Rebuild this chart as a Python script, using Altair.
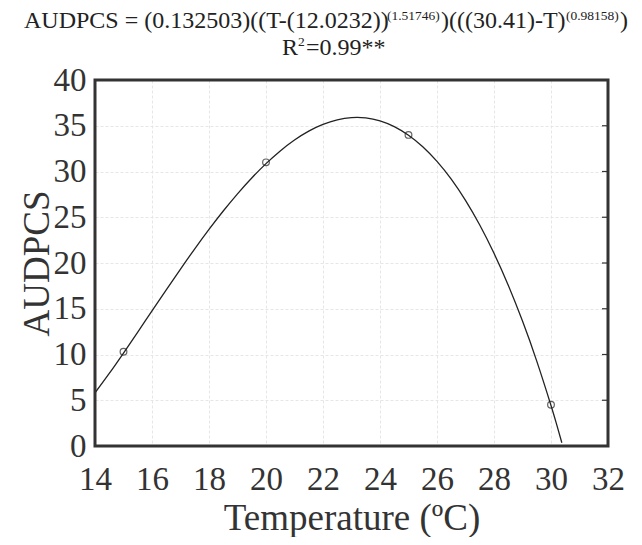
import altair as alt
import pandas as pd

# Observed points
obs_temp = [15, 20, 25, 30]
obs_audpcs = [10.3, 31.0, 34.0, 4.5]

# Fitted curve
curve_temp = [14, 14.5, 15, 15.5, 16, 16.5, 17, 17.5, 18, 18.5, 19, 19.5, 20, 20.5,
              21, 21.5, 22, 22.5, 23, 23.5, 24, 24.5, 25, 25.5, 26, 26.5, 27, 27.5,
              28, 28.5, 29, 29.5, 30, 30.2, 30.38]
curve_audpcs = [5.81, 7.93, 10.16, 12.45, 14.77, 17.07, 19.34, 21.55, 23.67, 25.68,
                27.56, 29.29, 30.86, 32.25, 33.44, 34.41, 35.14, 35.64, 35.89, 35.86,
                35.54, 34.91, 33.97, 32.71, 31.11, 29.17, 26.85, 24.15, 21.06, 17.57,
                13.65, 9.28, 4.43, 2.33, 0.35]

x_ticks = [14, 16, 18, 20, 22, 24, 26, 28, 30, 32]
y_ticks = [0, 5, 10, 15, 20, 25, 30, 35, 40]
inner_y_ticks = [5, 10, 15, 20, 25, 30, 35]

FONT = "Liberation Serif"
INK = "#333333"

obs = pd.DataFrame({"T": obs_temp, "AUDPCS": obs_audpcs})
curve = pd.DataFrame({"T": curve_temp, "AUDPCS": curve_audpcs})
rticks = pd.DataFrame({"AUDPCS": inner_y_ticks})

x_enc = alt.X("T:Q",
              scale=alt.Scale(domain=[14, 32], nice=False, zero=False),
              axis=alt.Axis(values=x_ticks, title="Temperature (ºC)", format="d",
                            labelFont=FONT, labelFontSize=33, labelColor=INK,
                            labelFlush=False, labelOverlap=False,
                            labelPadding=17, tickSize=0, domain=False,
                            gridColor="#e6e6e6", gridDash=[3, 2], gridWidth=1,
                            titleFont=FONT, titleFontSize=37, titleFontWeight="normal",
                            titleColor=INK, titleY=83, titleBaseline="alphabetic"))
y_enc = alt.Y("AUDPCS:Q",
              scale=alt.Scale(domain=[0, 40], nice=False),
              axis=alt.Axis(values=y_ticks, title="AUDPCS", format="d",
                            labelFont=FONT, labelFontSize=33, labelColor=INK,
                            labelFlush=False, labelOverlap=False,
                            labelPadding=9, tickSize=0, domain=False,
                            gridColor="#e6e6e6", gridDash=[3, 2], gridWidth=1,
                            titleFont=FONT, titleFontSize=37, titleFontWeight="normal",
                            titleColor=INK, titleX=-47, titleBaseline="alphabetic",
                            titleAngle=270))

line = alt.Chart(curve).mark_line(color="#222222", strokeWidth=1.3,
                                  interpolate="natural").encode(x=x_enc, y=y_enc)
pts = alt.Chart(obs).mark_point(shape="circle", size=45, filled=False,
                                color="#222222", strokeWidth=1.2).encode(x="T:Q", y="AUDPCS:Q")
right_ticks = alt.Chart(rticks).mark_rule(color=INK, strokeWidth=1.2).encode(
    y="AUDPCS:Q", x=alt.value(507), x2=alt.value(513))

one = pd.DataFrame({"k": [0]})

frame = alt.Chart(one).mark_rect(fillOpacity=0, stroke=INK, strokeWidth=3).encode(
    x=alt.value(0), x2=alt.value(513), y=alt.value(0), y2=alt.value(366))


def txt(s, x, y, size):
    return alt.Chart(one).mark_text(text=s, font=FONT, fontSize=size, color="#222222",
                                    align="left", baseline="alphabetic").encode(
        x=alt.value(x), y=alt.value(y))


OX, OY = 95, 80
SH = -6
title_layers = [
    txt("AUDPCS = (0.132503)((T-(12.0232))", 30 + SH - OX, 28 - OY, 24),
    txt("(1.51746)", 393 + SH - OX, 20 - OY, 13.5),
    txt(")(((30.41)-T)", 447 + SH - OX, 28 - OY, 24),
    txt("(0.98158)", 572 + SH - OX, 20 - OY, 13.5),
    txt(")", 626 + SH - OX, 28 - OY, 24),
    txt("R", 282 - OX, 55 - OY, 24),
    txt("2", 298 - OX, 46 - OY, 13.5),
    txt("=0.99**", 306 - OX, 55 - OY, 24),
]

chart = alt.layer(line, pts, right_ticks, frame, *title_layers).properties(
    width=513, height=366,
    background="white",
    autosize=alt.AutoSizeParams(type="none"),
    padding={"left": 87, "top": 72, "right": 26, "bottom": 91},
).configure_view(stroke=None)

chart.save("out.html", embed_options={"renderer": "svg", "actions": False})
